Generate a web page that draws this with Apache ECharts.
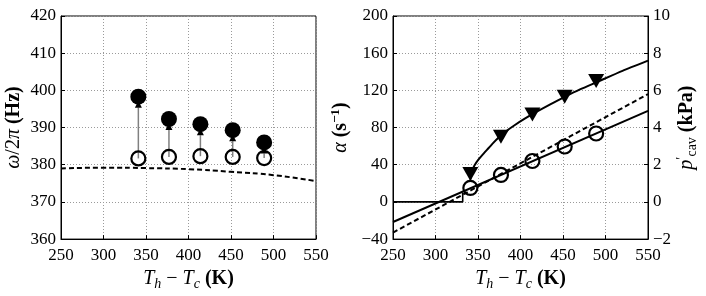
<!DOCTYPE html>
<html><head><meta charset="utf-8">
<script src="https://cdn.jsdelivr.net/npm/echarts@6/dist/echarts.min.js"></script>
<style>html,body{margin:0;padding:0;background:#fff}#c{width:706px;height:296px}</style>
</head><body><div id="c"></div>
<script>
// ---- data ----
const temps = [341, 377, 414, 452, 489];
const freqBefore = [381.7, 382.1, 382.3, 382.1, 381.8];
const freqAfter = [398.3, 392.3, 390.9, 389.3, 386.0];
const freqModelT = [250, 300, 350, 400, 450, 500, 550];
const freqModel = [379.0, 379.2, 379.1, 378.8, 378.1, 377.2, 375.6];

const growthRate = [30, 70, 94, 113, 130];
const growthFitT = [341, 342.6, 346, 350, 356, 362, 368, 374, 383, 393, 405, 417, 435, 452, 470, 490, 520, 550];
const growthFit = [24, 33, 39.5, 45, 51.5, 57.5, 63.5, 69, 76, 82.5, 89.5, 96, 105, 113, 121, 129, 141, 152];
const pcav = [0.75, 1.45, 2.2, 2.98, 3.68];
const pcavLineT = [250, 550];
const pcavFit = [-1.08, 4.9];
const pcavModel = [-1.65, 5.8];
const stepT = [250, 332, 332];
const stepV = [0, 0, 0.5];

const xTicks = {min: 250, max: 550, interval: 50};
const leftY = {min: 360, max: 420, interval: 10};
const alphaY = {min: -40, max: 200, interval: 40};
const pY = {min: -2, max: 10, interval: 2};

// ---- helpers ----
const zip = (a, b) => a.map((v, i) => [v, b[i]]);
const FONT = 'Liberation Serif';
const fmt = v => v < 0 ? '\u2212' + (-v) : String(v);
const gridLine = {show: true, lineStyle: {color: '#9a9a9a', type: [1, 2], width: 1}};
const axisLbl = {color: '#000', fontFamily: FONT, fontSize: 17, formatter: fmt};
const NF = 20;
const nameRich = {
  r: {fontFamily: FONT, fontSize: NF, color: '#000', lineHeight: 24},
  i: {fontFamily: FONT, fontSize: NF, fontStyle: 'italic', color: '#000', lineHeight: 24},
  b: {fontFamily: FONT, fontSize: NF, fontWeight: 'bold', color: '#000', lineHeight: 24},
  sub: {fontFamily: FONT, fontSize: 14, fontStyle: 'italic', color: '#000', lineHeight: 14, verticalAlign: 'bottom'},
  subr: {fontFamily: FONT, fontSize: 14, color: '#000', lineHeight: 14, verticalAlign: 'bottom'},
  sup: {fontFamily: FONT, fontSize: 13, fontWeight: 'bold', color: '#000', lineHeight: 13, verticalAlign: 'top'},
  supr: {fontFamily: FONT, fontSize: 14, color: '#000', lineHeight: 14, verticalAlign: 'top'}
};
function xAxis(gi) {
  return {
    type: 'value', gridIndex: gi, min: xTicks.min, max: xTicks.max, interval: xTicks.interval,
    axisLine: {show: true, onZero: false, lineStyle: {color: '#000', width: 1}},
    axisTick: {show: true, inside: true, length: 4, lineStyle: {color: '#000'}},
    axisLabel: Object.assign({margin: 8}, axisLbl),
    splitLine: gridLine,
    name: '{i|T}{sub|h}{r| \u2212 }{i|T}{sub|c}{r| }{b|(K)}',
    nameLocation: 'middle', nameGap: 15,
    nameTextStyle: {rich: nameRich}
  };
}
function yAxis(gi, r, opts) {
  return Object.assign({
    type: 'value', gridIndex: gi, min: r.min, max: r.max, interval: r.interval,
    axisLine: {show: true, onZero: false, lineStyle: {color: '#000', width: 1}},
    axisTick: {show: true, inside: true, length: 4, lineStyle: {color: '#000'}},
    axisLabel: Object.assign({margin: 5}, axisLbl),
    splitLine: gridLine,
    nameLocation: 'middle', nameRotate: 90,
    nameTextStyle: {rich: nameRich}
  }, opts);
}

// arrows from open to filled circle
function arrowItem(params, api) {
  const x = api.value(0);
  const p0 = api.coord([x, api.value(1)]);
  const p1 = api.coord([x, api.value(2)]);
  const tipY = p1[1] + 4;
  const headLen = 7, headW = 3.5;
  return {
    type: 'group',
    children: [
      {type: 'line', shape: {x1: p0[0], y1: p0[1], x2: p0[0], y2: tipY + headLen},
       style: {stroke: '#808080', lineWidth: 1.5}},
      {type: 'polygon', shape: {points: [[p1[0], tipY], [p1[0] - headW, tipY + headLen], [p1[0] + headW, tipY + headLen]]},
       style: {fill: '#000'}}
    ]
  };
}

const chart = echarts.init(document.getElementById('c'), null, {renderer: 'canvas'});
chart.setOption({
  backgroundColor: '#fff',
  animation: false,
  grid: [
    {left: 61, top: 16, width: 255, height: 226, show: true, borderColor: '#000', borderWidth: 1, backgroundColor: 'transparent'},
    {left: 393, top: 16, width: 255, height: 226, show: true, borderColor: '#000', borderWidth: 1, backgroundColor: 'transparent'}
  ],
  xAxis: [xAxis(0), xAxis(1)],
  yAxis: [
    yAxis(0, leftY, {name: '{i|\u03c9}{r|/2}{i|\u03c0}{r| }{b|(Hz)}', nameGap: 35}),
    yAxis(1, alphaY, {name: '{i|\u03b1}{r| }{b|(s}{sup|\u22121}{b|)}', nameGap: 40}),
    yAxis(1, pY, {position: 'right', splitLine: {show: false},
      name: '{i|p}{supr|\u2032}{subr|cav}{r| }{b|(kPa)}', nameGap: 26, nameRotate: 90})
  ],
  series: [
    {type: 'line', xAxisIndex: 0, yAxisIndex: 0, data: zip(freqModelT, freqModel), smooth: true, showSymbol: false,
     lineStyle: {color: '#000', width: 2, type: [5, 3]}, z: 2},
    {type: 'custom', xAxisIndex: 0, yAxisIndex: 0, renderItem: arrowItem,
     data: temps.map((t, i) => [t, freqBefore[i], freqAfter[i]]), encode: {x: 0, y: [1, 2]}, z: 3},
    {type: 'scatter', xAxisIndex: 0, yAxisIndex: 0, data: zip(temps, freqBefore), symbol: 'circle', symbolSize: 14,
     itemStyle: {color: 'transparent', borderColor: '#000', borderWidth: 2.2, opacity: 1}, z: 4},
    {type: 'scatter', xAxisIndex: 0, yAxisIndex: 0, data: zip(temps, freqAfter), symbol: 'circle', symbolSize: 16,
     itemStyle: {color: '#000', opacity: 1}, z: 5},

    {type: 'line', xAxisIndex: 1, yAxisIndex: 2, data: zip(stepT, stepV), showSymbol: false,
     lineStyle: {color: '#000', width: 1.6}, z: 2},
    {type: 'line', xAxisIndex: 1, yAxisIndex: 2, data: zip(pcavLineT, pcavModel), showSymbol: false,
     lineStyle: {color: '#000', width: 2, type: [5, 3]}, z: 2},
    {type: 'line', xAxisIndex: 1, yAxisIndex: 2, data: zip(pcavLineT, pcavFit), showSymbol: false,
     lineStyle: {color: '#000', width: 2}, z: 2},
    {type: 'line', xAxisIndex: 1, yAxisIndex: 1, data: zip(growthFitT, growthFit), showSymbol: false, smooth: 0.2,
     lineStyle: {color: '#000', width: 2}, z: 2},
    {type: 'scatter', xAxisIndex: 1, yAxisIndex: 2, data: zip(temps, pcav), symbol: 'circle', symbolSize: 14,
     itemStyle: {color: 'transparent', borderColor: '#000', borderWidth: 2.2, opacity: 1}, z: 4},
    {type: 'scatter', xAxisIndex: 1, yAxisIndex: 1, data: zip(temps, growthRate), symbol: 'triangle', symbolRotate: 180,
     symbolSize: [16, 14], itemStyle: {color: '#000', opacity: 1}, z: 5}
  ]
});
</script></body></html>
